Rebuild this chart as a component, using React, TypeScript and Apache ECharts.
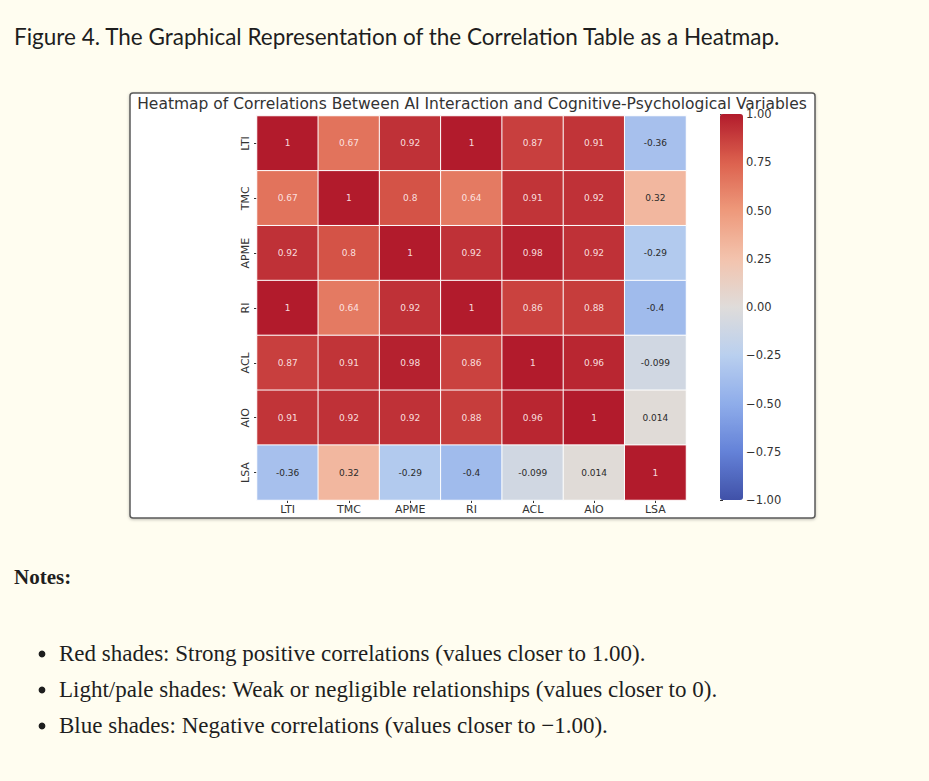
import React, { useEffect, useRef } from "react";
import * as echarts from "echarts";

// Variables of the correlation matrix (rows top→bottom, columns left→right)
const variables = ["LTI", "TMC", "APME", "RI", "ACL", "AIO", "LSA"];

const rowLTI = [1, 0.67, 0.92, 1, 0.87, 0.91, -0.36];
const rowTMC = [0.67, 1, 0.8, 0.64, 0.91, 0.92, 0.32];
const rowAPME = [0.92, 0.8, 1, 0.92, 0.98, 0.92, -0.29];
const rowRI = [1, 0.64, 0.92, 1, 0.86, 0.88, -0.4];
const rowACL = [0.87, 0.91, 0.98, 0.86, 1, 0.96, -0.099];
const rowAIO = [0.91, 0.92, 0.92, 0.88, 0.96, 1, 0.014];
const rowLSA = [-0.36, 0.32, -0.29, -0.4, -0.099, 0.014, 1];
const correlationRows = [rowLTI, rowTMC, rowAPME, rowRI, rowACL, rowAIO, rowLSA];

const scaleMin = -1;
const scaleMax = 1;
const scaleStep = 0.25;

const figureCaption =
  "Figure 4. The Graphical Representation of the Correlation Table as a Heatmap.";
const chartTitle =
  "Heatmap of Correlations Between AI Interaction and Cognitive-Psychological Variables";
const notesHeading = "Notes:";
const noteLines = [
  "Red shades: Strong positive correlations (values closer to 1.00).",
  "Light/pale shades: Weak or negligible relationships (values closer to 0).",
  "Blue shades: Negative correlations (values closer to \u22121.00).",
];

// diverging blue–grey–red ramp
const coolwarm = [
  "#4051a8",
  "#6482d8",
  "#8fadea",
  "#b9cfef",
  "#dfdcda",
  "#f3c3ad",
  "#ee997b",
  "#dc614e",
  "#b21b2c",
];

const PAGE_BG = "#fffdf0";
const SANS = "'DejaVu Sans', sans-serif";

export default function App() {
  const ref = useRef<HTMLDivElement>(null);

  useEffect(() => {
    if (!ref.current) return;
    const chart = echarts.init(ref.current, undefined, { renderer: "svg" });

    const cells: any[] = [];
    correlationRows.forEach((row, yi) => {
      row.forEach((v, xi) => {
        cells.push({
          value: [xi, yi, v],
          label: { color: v > 0.5 ? "rgba(255,236,236,0.92)" : "#2a2a2a" },
        });
      });
    });

    const fmtTick = (v: number) =>
      (Math.abs(v) < 1e-9 ? 0 : v).toFixed(2).replace("-", "\u2212");

    const notesGraphics: any[] = [];
    noteLines.forEach((line, i) => {
      const y = 653 + i * 36;
      notesGraphics.push({
        type: "circle",
        shape: { cx: 42, cy: y + 1, r: 3.4 },
        style: { fill: "#1e1e1e" },
      });
      notesGraphics.push({
        type: "text",
        x: 59,
        y,
        style: {
          text: line,
          font: "23px 'Liberation Serif', serif",
          fill: "#1e1e1e",
          textVerticalAlign: "middle",
        },
      });
    });

    chart.setOption({
      animation: false,
      backgroundColor: PAGE_BG,
      graphic: [
        {
          type: "text",
          x: 14,
          y: 36,
          style: {
            text: figureCaption,
            font: "22.5px Lato, sans-serif",
            fill: "#1e1e1e",
            textVerticalAlign: "middle",
          },
        },
        {
          type: "rect",
          z: 0,
          shape: { x: 130, y: 93, width: 685, height: 425, r: 3 },
          style: {
            fill: "#ffffff",
            stroke: "#5a5a5a",
            lineWidth: 1.5,
            shadowBlur: 3,
            shadowOffsetY: 1,
            shadowColor: "rgba(0,0,0,0.25)",
          },
        },
        {
          type: "text",
          x: 472,
          y: 104,
          z: 5,
          style: {
            text: chartTitle,
            font: `15.5px ${SANS}`,
            fill: "#333333",
            textAlign: "center",
            textVerticalAlign: "middle",
          },
        },
        {
          type: "text",
          x: 14,
          y: 577,
          style: {
            text: notesHeading,
            font: "bold 21px 'Liberation Serif', serif",
            fill: "#1e1e1e",
            textVerticalAlign: "middle",
          },
        },
        ...notesGraphics,
      ],
      grid: [
        { left: 257, top: 116, width: 429, height: 384 },
        { left: 720, top: 114, width: 23, height: 386 },
      ],
      xAxis: [
        {
          type: "category",
          data: variables,
          gridIndex: 0,
          axisLine: { show: false },
          axisTick: {
            show: true,
            alignWithLabel: true,
            length: 3,
            lineStyle: { color: "#333" },
          },
          axisLabel: { fontFamily: SANS, fontSize: 11, color: "#333", margin: 4 },
          splitLine: { show: false },
        },
        { type: "value", gridIndex: 1, show: false, min: 0, max: 1 },
      ],
      yAxis: [
        {
          type: "category",
          data: variables,
          inverse: true,
          gridIndex: 0,
          axisLine: { show: false },
          axisTick: {
            show: true,
            alignWithLabel: true,
            length: 3,
            lineStyle: { color: "#333" },
          },
          axisLabel: {
            fontFamily: SANS,
            fontSize: 11,
            color: "#333",
            rotate: 90,
            margin: 6,
          },
          splitLine: { show: false },
        },
        {
          type: "value",
          gridIndex: 1,
          position: "right",
          min: scaleMin,
          max: scaleMax,
          interval: scaleStep,
          axisLine: { show: false },
          axisTick: { show: true, length: 3, lineStyle: { color: "#333" } },
          axisLabel: {
            fontFamily: SANS,
            fontSize: 11.5,
            color: "#333",
            margin: 3,
            formatter: fmtTick,
          },
          splitLine: { show: false },
        },
      ],
      visualMap: {
        type: "continuous",
        min: scaleMin,
        max: scaleMax,
        seriesIndex: 0,
        calculable: false,
        left: 720,
        top: 114,
        padding: 0,
        itemWidth: 23,
        itemHeight: 386,
        text: ["", ""],
        showLabel: false,
        inRange: { color: coolwarm },
      },
      series: [
        {
          type: "heatmap",
          xAxisIndex: 0,
          yAxisIndex: 0,
          data: cells,
          itemStyle: { borderColor: "#ffffff", borderWidth: 1 },
          label: {
            show: true,
            fontFamily: SANS,
            fontSize: 9,
            formatter: (p: any) => String(p.value[2]),
          },
          emphasis: { disabled: true },
        },
        {
          type: "scatter",
          xAxisIndex: 1,
          yAxisIndex: 1,
          data: [],
          silent: true,
        },
      ],
    });

    return () => chart.dispose();
  }, []);

  return (
    <div
      ref={ref}
      style={{ position: "fixed", left: 0, top: 0, width: 929, height: 781 }}
    />
  );
}
